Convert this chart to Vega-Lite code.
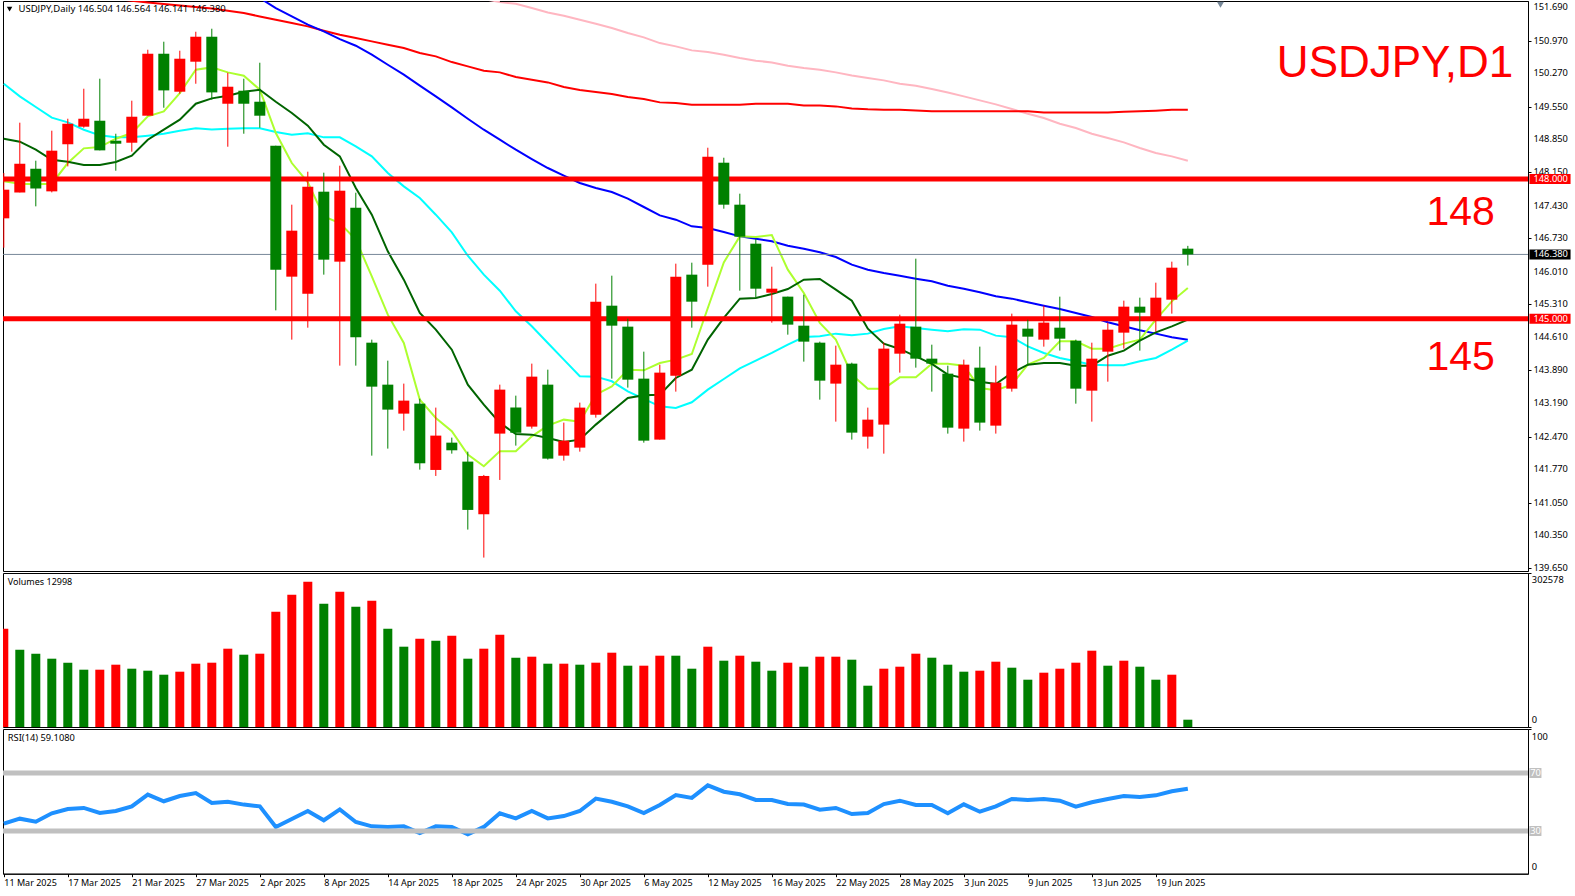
{"$schema":"https://vega.github.io/schema/vega-lite/v6.json","padding":{"left":0,"top":0,"right":0,"bottom":0},"background":"white","spacing":2,"bounds":"flush","config":{"view":{"stroke":"black","strokeWidth":1},"font":"Noto Sans","concat":{"spacing":2},"axis":{"grid":false,"title":null,"domainColor":"black","tickColor":"black","labelColor":"black","labelFont":"Noto Sans","labelFontSize":9,"tickSize":3,"labelPadding":2}},
"datasets":{"bars":[
{"i":0,"date":"2025-03-11","o":147.155,"h":148.127,"l":146.525,"c":147.77,"dir":"up","vol":193160,"vdir":"up","rsi":35.1,"ma1":147.949,"ma2":148.864,"ma3":150.044},
{"i":1,"date":"2025-03-12","o":147.712,"h":149.208,"l":147.712,"c":148.328,"dir":"up","vol":151895,"vdir":"down","rsi":38.5,"ma1":147.898,"ma2":148.8,"ma3":149.773},
{"i":2,"date":"2025-03-13","o":148.22,"h":148.392,"l":147.412,"c":147.798,"dir":"down","vol":144035,"vdir":"down","rsi":36.4,"ma1":147.884,"ma2":148.628,"ma3":149.544},
{"i":3,"date":"2025-03-14","o":147.734,"h":149.036,"l":147.712,"c":148.607,"dir":"up","vol":134210,"vdir":"down","rsi":42.2,"ma1":147.898,"ma2":148.413,"ma3":149.315},
{"i":4,"date":"2025-03-17","o":148.743,"h":149.293,"l":148.27,"c":149.186,"dir":"up","vol":126350,"vdir":"down","rsi":45.2,"ma1":148.342,"ma2":148.371,"ma3":149.215},
{"i":5,"date":"2025-03-18","o":149.122,"h":149.937,"l":149.1,"c":149.293,"dir":"up","vol":112595,"vdir":"down","rsi":45.9,"ma1":148.657,"ma2":148.299,"ma3":149.057},
{"i":6,"date":"2025-03-19","o":149.25,"h":150.152,"l":148.614,"c":148.614,"dir":"down","vol":112595,"vdir":"up","rsi":42.4,"ma1":148.685,"ma2":148.299,"ma3":148.936},
{"i":7,"date":"2025-03-20","o":148.821,"h":148.971,"l":148.177,"c":148.757,"dir":"down","vol":122420,"vdir":"up","rsi":43.8,"ma1":148.864,"ma2":148.363,"ma3":148.893,"ma5":151.868},
{"i":8,"date":"2025-03-21","o":148.778,"h":149.68,"l":148.585,"c":149.336,"dir":"up","vol":114560,"vdir":"down","rsi":47.0,"ma1":148.986,"ma2":148.499,"ma3":148.893,"ma5":151.826},
{"i":9,"date":"2025-03-24","o":149.358,"h":150.774,"l":149.358,"c":150.688,"dir":"up","vol":110630,"vdir":"down","rsi":55.1,"ma1":149.343,"ma2":148.843,"ma3":148.929,"ma5":151.79},
{"i":10,"date":"2025-03-25","o":150.688,"h":150.946,"l":149.529,"c":149.901,"dir":"down","vol":102770,"vdir":"down","rsi":50.5,"ma1":149.451,"ma2":149.057,"ma3":148.971,"ma5":151.754},
{"i":11,"date":"2025-03-26","o":149.873,"h":150.753,"l":149.83,"c":150.581,"dir":"up","vol":108665,"vdir":"up","rsi":54.1,"ma1":149.844,"ma2":149.272,"ma3":149.036,"ma5":151.725},
{"i":12,"date":"2025-03-27","o":150.517,"h":151.16,"l":150.044,"c":151.053,"dir":"up","vol":124385,"vdir":"up","rsi":56.2,"ma1":150.345,"ma2":149.615,"ma3":149.086,"ma5":151.69},
{"i":13,"date":"2025-03-28","o":151.053,"h":151.225,"l":149.701,"c":149.858,"dir":"down","vol":126350,"vdir":"up","rsi":49.3,"ma1":150.395,"ma2":149.73,"ma3":149.064,"ma5":151.661},
{"i":14,"date":"2025-03-31","o":149.615,"h":150.28,"l":148.692,"c":149.98,"dir":"up","vol":153860,"vdir":"up","rsi":50.2,"ma1":150.288,"ma2":149.787,"ma3":149.079,"ma5":151.611},
{"i":15,"date":"2025-04-01","o":149.894,"h":150.152,"l":148.971,"c":149.615,"dir":"down","vol":142070,"vdir":"down","rsi":48.2,"ma1":150.216,"ma2":149.873,"ma3":149.086,"ma4":152.062,"ma5":151.561},
{"i":16,"date":"2025-04-02","o":149.658,"h":150.495,"l":149.1,"c":149.358,"dir":"down","vol":144035,"vdir":"up","rsi":47.0,"ma1":149.916,"ma2":149.916,"ma3":149.086,"ma4":151.883,"ma5":151.489},
{"i":17,"date":"2025-04-03","o":148.714,"h":148.714,"l":145.18,"c":146.053,"dir":"down","vol":226565,"vdir":"up","rsi":32.8,"ma1":148.986,"ma2":149.658,"ma3":149.007,"ma4":151.668,"ma5":151.418},
{"i":18,"date":"2025-04-04","o":145.903,"h":147.448,"l":144.551,"c":146.89,"dir":"up","vol":259970,"vdir":"up","rsi":38.3,"ma1":148.342,"ma2":149.415,"ma3":148.95,"ma4":151.489,"ma5":151.346},
{"i":19,"date":"2025-04-07","o":145.538,"h":148.156,"l":144.808,"c":147.834,"dir":"up","vol":285515,"vdir":"up","rsi":43.8,"ma1":147.927,"ma2":149.143,"ma3":148.979,"ma4":151.311,"ma5":151.275},
{"i":20,"date":"2025-04-08","o":147.727,"h":148.135,"l":145.946,"c":146.268,"dir":"down","vol":242285,"vdir":"down","rsi":37.4,"ma1":147.197,"ma2":148.735,"ma3":148.893,"ma4":151.167,"ma5":151.182},
{"i":21,"date":"2025-04-09","o":146.225,"h":148.285,"l":143.993,"c":147.748,"dir":"up","vol":265865,"vdir":"up","rsi":44.9,"ma1":147.054,"ma2":148.485,"ma3":148.893,"ma4":151.003,"ma5":151.096},
{"i":22,"date":"2025-04-10","o":147.383,"h":147.705,"l":143.993,"c":144.601,"dir":"down","vol":236390,"vdir":"down","rsi":36.2,"ma1":146.697,"ma2":147.806,"ma3":148.7,"ma4":150.86,"ma5":151.024},
{"i":23,"date":"2025-04-11","o":144.486,"h":144.551,"l":142.061,"c":143.542,"dir":"down","vol":248180,"vdir":"up","rsi":33.2,"ma1":145.91,"ma2":147.233,"ma3":148.485,"ma4":150.667,"ma5":150.953},
{"i":24,"date":"2025-04-14","o":143.585,"h":144.1,"l":142.212,"c":143.049,"dir":"down","vol":193160,"vdir":"down","rsi":32.8,"ma1":145.087,"ma2":146.446,"ma3":148.127,"ma4":150.452,"ma5":150.881},
{"i":25,"date":"2025-04-15","o":142.963,"h":143.607,"l":142.598,"c":143.242,"dir":"up","vol":157790,"vdir":"down","rsi":33.2,"ma1":144.479,"ma2":145.838,"ma3":147.841,"ma4":150.238,"ma5":150.81},
{"i":26,"date":"2025-04-16","o":143.177,"h":143.285,"l":141.761,"c":141.897,"dir":"down","vol":173510,"vdir":"up","rsi":28.6,"ma1":143.263,"ma2":145.123,"ma3":147.591,"ma4":150.002,"ma5":150.703},
{"i":27,"date":"2025-04-17","o":141.754,"h":143.092,"l":141.625,"c":142.491,"dir":"up","vol":169580,"vdir":"down","rsi":33.2,"ma1":142.87,"ma2":144.765,"ma3":147.233,"ma4":149.773,"ma5":150.631},
{"i":28,"date":"2025-04-18","o":142.34,"h":142.448,"l":142.104,"c":142.176,"dir":"down","vol":179405,"vdir":"up","rsi":32.8,"ma1":142.584,"ma2":144.336,"ma3":146.854,"ma4":149.537,"ma5":150.509},
{"i":29,"date":"2025-04-21","o":141.933,"h":142.147,"l":140.474,"c":140.896,"dir":"down","vol":134210,"vdir":"down","rsi":27.7,"ma1":142.083,"ma2":143.585,"ma3":146.353,"ma4":149.293,"ma5":150.416},
{"i":30,"date":"2025-04-22","o":140.803,"h":141.647,"l":139.873,"c":141.625,"dir":"up","vol":153860,"vdir":"up","rsi":32.8,"ma1":141.833,"ma2":143.156,"ma3":145.946,"ma4":149.057,"ma5":150.323,"ma6":151.861},
{"i":31,"date":"2025-04-23","o":142.534,"h":143.585,"l":141.539,"c":143.478,"dir":"up","vol":181370,"vdir":"up","rsi":42.2,"ma1":142.154,"ma2":142.763,"ma3":145.602,"ma4":148.843,"ma5":150.288,"ma6":151.797},
{"i":32,"date":"2025-04-24","o":143.092,"h":143.349,"l":142.276,"c":142.555,"dir":"down","vol":136175,"vdir":"down","rsi":38.7,"ma1":142.154,"ma2":142.526,"ma3":145.159,"ma4":148.628,"ma5":150.187,"ma6":151.761},
{"i":33,"date":"2025-04-25","o":142.684,"h":144.036,"l":142.641,"c":143.757,"dir":"up","vol":138140,"vdir":"up","rsi":43.8,"ma1":142.476,"ma2":142.512,"ma3":144.837,"ma4":148.428,"ma5":150.13,"ma6":151.668},
{"i":34,"date":"2025-04-28","o":143.585,"h":143.907,"l":141.976,"c":141.997,"dir":"down","vol":124385,"vdir":"down","rsi":38.7,"ma1":142.705,"ma2":142.441,"ma3":144.479,"ma4":148.235,"ma5":150.073,"ma6":151.575},
{"i":35,"date":"2025-04-29","o":142.061,"h":142.77,"l":141.954,"c":142.383,"dir":"up","vol":124385,"vdir":"up","rsi":40.3,"ma1":142.834,"ma2":142.355,"ma3":144.122,"ma4":148.07,"ma5":149.973,"ma6":151.504},
{"i":36,"date":"2025-04-30","o":142.233,"h":143.199,"l":142.147,"c":143.092,"dir":"up","vol":122420,"vdir":"down","rsi":43.8,"ma1":142.791,"ma2":142.405,"ma3":143.764,"ma4":147.913,"ma5":149.908,"ma6":151.418},
{"i":37,"date":"2025-05-01","o":142.941,"h":145.753,"l":142.877,"c":145.366,"dir":"up","vol":126350,"vdir":"up","rsi":52.3,"ma1":143.37,"ma2":142.727,"ma3":143.757,"ma4":147.806,"ma5":149.866,"ma6":151.332},
{"i":38,"date":"2025-05-02","o":145.28,"h":145.924,"l":143.714,"c":144.851,"dir":"down","vol":146000,"vdir":"up","rsi":50.2,"ma1":143.549,"ma2":143.013,"ma3":143.657,"ma4":147.72,"ma5":149.823,"ma6":151.239},
{"i":39,"date":"2025-05-05","o":144.83,"h":145.001,"l":143.521,"c":143.692,"dir":"down","vol":120455,"vdir":"down","rsi":47.0,"ma1":143.907,"ma2":143.299,"ma3":143.442,"ma4":147.577,"ma5":149.758,"ma6":151.132},
{"i":40,"date":"2025-05-06","o":143.714,"h":144.293,"l":142.34,"c":142.383,"dir":"down","vol":120455,"vdir":"up","rsi":42.4,"ma1":143.893,"ma2":143.356,"ma3":143.278,"ma4":147.398,"ma5":149.715,"ma6":151.039},
{"i":41,"date":"2025-05-07","o":142.405,"h":144.014,"l":142.405,"c":143.843,"dir":"up","vol":140105,"vdir":"up","rsi":47.9,"ma1":144.05,"ma2":143.37,"ma3":143.12,"ma4":147.219,"ma5":149.644,"ma6":150.917},
{"i":42,"date":"2025-05-08","o":143.778,"h":146.182,"l":143.435,"c":145.903,"dir":"up","vol":140105,"vdir":"down","rsi":54.8,"ma1":144.122,"ma2":143.728,"ma3":143.084,"ma4":147.126,"ma5":149.63,"ma6":150.846},
{"i":43,"date":"2025-05-09","o":145.946,"h":146.203,"l":144.808,"c":145.366,"dir":"down","vol":114560,"vdir":"down","rsi":52.8,"ma1":144.243,"ma2":143.907,"ma3":143.206,"ma4":146.983,"ma5":149.594,"ma6":150.76},
{"i":44,"date":"2025-05-12","o":146.16,"h":148.671,"l":145.688,"c":148.478,"dir":"up","vol":157790,"vdir":"up","rsi":61.5,"ma1":145.23,"ma2":144.551,"ma3":143.478,"ma4":146.947,"ma5":149.594,"ma6":150.724},
{"i":45,"date":"2025-05-13","o":148.349,"h":148.456,"l":147.362,"c":147.448,"dir":"down","vol":130280,"vdir":"down","rsi":57.1,"ma1":146.21,"ma2":145.016,"ma3":143.707,"ma4":146.861,"ma5":149.594,"ma6":150.667},
{"i":46,"date":"2025-05-14","o":147.448,"h":147.684,"l":145.602,"c":146.761,"dir":"down","vol":140105,"vdir":"up","rsi":55.3,"ma1":146.768,"ma2":145.431,"ma3":143.936,"ma4":146.768,"ma5":149.594,"ma6":150.595},
{"i":47,"date":"2025-05-15","o":146.611,"h":146.718,"l":145.452,"c":145.645,"dir":"down","vol":128315,"vdir":"down","rsi":51.4,"ma1":146.754,"ma2":145.445,"ma3":144.1,"ma4":146.718,"ma5":149.615,"ma6":150.538},
{"i":48,"date":"2025-05-16","o":145.559,"h":146.117,"l":144.916,"c":145.645,"dir":"up","vol":110630,"vdir":"down","rsi":51.4,"ma1":146.797,"ma2":145.531,"ma3":144.265,"ma4":146.661,"ma5":149.615,"ma6":150.502},
{"i":49,"date":"2025-05-19","o":145.474,"h":145.474,"l":144.658,"c":144.873,"dir":"down","vol":126350,"vdir":"up","rsi":48.6,"ma1":146.053,"ma2":145.638,"ma3":144.444,"ma4":146.568,"ma5":149.615,"ma6":150.431},
{"i":50,"date":"2025-05-20","o":144.851,"h":145.516,"l":144.079,"c":144.508,"dir":"down","vol":118490,"vdir":"down","rsi":48.2,"ma1":145.552,"ma2":145.838,"ma3":144.608,"ma4":146.504,"ma5":149.579,"ma6":150.381},
{"i":51,"date":"2025-05-21","o":144.486,"h":144.508,"l":143.263,"c":143.671,"dir":"down","vol":138140,"vdir":"up","rsi":44.7,"ma1":144.909,"ma2":145.853,"ma3":144.622,"ma4":146.425,"ma5":149.579,"ma6":150.345},
{"i":52,"date":"2025-05-22","o":143.607,"h":144.422,"l":142.791,"c":144.014,"dir":"up","vol":138140,"vdir":"up","rsi":45.9,"ma1":144.551,"ma2":145.624,"ma3":144.68,"ma4":146.325,"ma5":149.558,"ma6":150.288},
{"i":53,"date":"2025-05-23","o":144.036,"h":144.057,"l":142.405,"c":142.555,"dir":"down","vol":132245,"vdir":"down","rsi":41.7,"ma1":143.8,"ma2":145.388,"ma3":144.644,"ma4":146.16,"ma5":149.515,"ma6":150.223},
{"i":54,"date":"2025-05-26","o":142.469,"h":143.092,"l":142.212,"c":142.834,"dir":"up","vol":81155,"vdir":"down","rsi":42.4,"ma1":143.499,"ma2":144.787,"ma3":144.68,"ma4":146.053,"ma5":149.494,"ma6":150.166},
{"i":55,"date":"2025-05-27","o":142.727,"h":144.486,"l":142.104,"c":144.358,"dir":"up","vol":114560,"vdir":"up","rsi":48.6,"ma1":143.499,"ma2":144.465,"ma3":144.78,"ma4":145.981,"ma5":149.486,"ma6":150.116},
{"i":56,"date":"2025-05-28","o":144.25,"h":145.087,"l":143.843,"c":144.894,"dir":"up","vol":118490,"vdir":"up","rsi":50.9,"ma1":143.742,"ma2":144.351,"ma3":144.837,"ma4":145.924,"ma5":149.486,"ma6":150.044},
{"i":57,"date":"2025-05-29","o":144.83,"h":146.289,"l":143.95,"c":144.143,"dir":"down","vol":144035,"vdir":"up","rsi":47.9,"ma1":143.742,"ma2":144.193,"ma3":144.801,"ma4":145.86,"ma5":149.472,"ma6":150.002},
{"i":58,"date":"2025-05-30","o":144.143,"h":144.443,"l":143.435,"c":144.036,"dir":"down","vol":136175,"vdir":"down","rsi":47.9,"ma1":144.036,"ma2":144.029,"ma3":144.765,"ma4":145.803,"ma5":149.451,"ma6":149.93},
{"i":59,"date":"2025-06-02","o":143.821,"h":143.993,"l":142.534,"c":142.662,"dir":"down","vol":122420,"vdir":"down","rsi":42.2,"ma1":144.036,"ma2":143.8,"ma3":144.73,"ma4":145.71,"ma5":149.451,"ma6":149.858},
{"i":60,"date":"2025-06-03","o":142.641,"h":144.122,"l":142.362,"c":144.014,"dir":"up","vol":108665,"vdir":"down","rsi":48.4,"ma1":143.993,"ma2":143.728,"ma3":144.773,"ma4":145.645,"ma5":149.451,"ma6":149.773},
{"i":61,"date":"2025-06-04","o":143.95,"h":144.401,"l":142.598,"c":142.77,"dir":"down","vol":110630,"vdir":"up","rsi":43.3,"ma1":143.514,"ma2":143.649,"ma3":144.765,"ma4":145.567,"ma5":149.451,"ma6":149.687},
{"i":62,"date":"2025-06-05","o":142.705,"h":143.993,"l":142.534,"c":143.628,"dir":"up","vol":128315,"vdir":"up","rsi":47.0,"ma1":143.464,"ma2":143.599,"ma3":144.637,"ma4":145.481,"ma5":149.451,"ma6":149.601},
{"i":63,"date":"2025-06-06","o":143.499,"h":145.109,"l":143.435,"c":144.873,"dir":"up","vol":116525,"vdir":"down","rsi":52.1,"ma1":143.585,"ma2":143.836,"ma3":144.601,"ma4":145.431,"ma5":149.451,"ma6":149.501},
{"i":64,"date":"2025-06-09","o":144.787,"h":144.98,"l":143.993,"c":144.615,"dir":"down","vol":92945,"vdir":"down","rsi":51.4,"ma1":144.014,"ma2":144.014,"ma3":144.408,"ma4":145.352,"ma5":149.451,"ma6":149.401},
{"i":65,"date":"2025-06-10","o":144.551,"h":145.28,"l":144.401,"c":144.916,"dir":"up","vol":106700,"vdir":"up","rsi":52.1,"ma1":144.157,"ma2":144.05,"ma3":144.265,"ma4":145.28,"ma5":149.429,"ma6":149.308},
{"i":66,"date":"2025-06-11","o":144.808,"h":145.474,"l":144.315,"c":144.572,"dir":"down","vol":114560,"vdir":"up","rsi":50.9,"ma1":144.515,"ma2":144.05,"ma3":144.157,"ma4":145.209,"ma5":149.429,"ma6":149.186},
{"i":67,"date":"2025-06-12","o":144.529,"h":144.551,"l":143.177,"c":143.499,"dir":"down","vol":126350,"vdir":"up","rsi":46.8,"ma1":144.515,"ma2":143.993,"ma3":144.086,"ma4":145.123,"ma5":149.429,"ma6":149.093},
{"i":68,"date":"2025-06-13","o":143.456,"h":144.486,"l":142.791,"c":144.143,"dir":"up","vol":149930,"vdir":"up","rsi":49.8,"ma1":144.358,"ma2":143.993,"ma3":144.014,"ma4":145.037,"ma5":149.429,"ma6":148.971},
{"i":69,"date":"2025-06-16","o":144.293,"h":144.916,"l":143.649,"c":144.765,"dir":"up","vol":120455,"vdir":"down","rsi":52.1,"ma1":144.358,"ma2":144.207,"ma3":144.0,"ma4":144.923,"ma5":149.429,"ma6":148.878},
{"i":70,"date":"2025-06-17","o":144.701,"h":145.388,"l":144.358,"c":145.259,"dir":"up","vol":130280,"vdir":"up","rsi":54.1,"ma1":144.465,"ma2":144.315,"ma3":144.0,"ma4":144.837,"ma5":149.444,"ma6":148.785},
{"i":71,"date":"2025-06-18","o":145.259,"h":145.452,"l":144.315,"c":145.13,"dir":"down","vol":118490,"vdir":"down","rsi":53.4,"ma1":144.551,"ma2":144.529,"ma3":144.086,"ma4":144.751,"ma5":149.451,"ma6":148.664},
{"i":72,"date":"2025-06-19","o":144.98,"h":145.774,"l":144.722,"c":145.452,"dir":"up","vol":92945,"vdir":"down","rsi":54.6,"ma1":144.98,"ma2":144.708,"ma3":144.157,"ma4":144.68,"ma5":149.465,"ma6":148.557},
{"i":73,"date":"2025-06-20","o":145.409,"h":146.225,"l":145.109,"c":146.096,"dir":"up","vol":102770,"vdir":"up","rsi":57.4,"ma1":145.373,"ma2":144.837,"ma3":144.336,"ma4":144.601,"ma5":149.486,"ma6":148.485},
{"i":74,"date":"2025-06-23","o":146.504,"h":146.564,"l":146.141,"c":146.38,"dir":"down","vol":14345,"vdir":"down","rsi":59.108,"ma1":145.66,"ma2":144.98,"ma3":144.529,"ma4":144.551,"ma5":149.486,"ma6":148.392}
]},
"vconcat":[
{"width":1525,"height":570,
"encoding":{"x":{"field":"i","type":"quantitative","scale":{"domain":[-0.05,95.26],"nice":false,"zero":false,"padding":0},"axis":null}},
"layer":[
{"data":{"name":"bars"},"mark":{"type":"line","color":"#FFB6C1","strokeWidth":2,"clip":true,"interpolate":"linear"},"encoding":{"y":{"field":"ma6","type":"quantitative","scale":{"domain":[139.585,151.82],"nice":false,"zero":false,"padding":0},"axis":{"orient":"right","values":[151.69,150.97,150.27,149.55,148.85,148.15,147.43,146.73,146.01,145.31,144.61,143.89,143.19,142.47,141.77,141.05,140.35,139.65],"title":null,"labels":false}}}},
{"data":{"name":"bars"},"mark":{"type":"line","color":"#FF0000","strokeWidth":2,"clip":true},"encoding":{"y":{"field":"ma5","type":"quantitative"}}},
{"data":{"name":"bars"},"mark":{"type":"line","color":"#0000FF","strokeWidth":2,"clip":true},"encoding":{"y":{"field":"ma4","type":"quantitative"}}},
{"data":{"name":"bars"},"mark":{"type":"line","color":"#00FFFF","strokeWidth":2,"clip":true},"encoding":{"y":{"field":"ma3","type":"quantitative"}}},
{"data":{"name":"bars"},"mark":{"type":"line","color":"#ADFF2F","strokeWidth":2,"clip":true},"encoding":{"y":{"field":"ma1","type":"quantitative"}}},
{"data":{"name":"bars"},"mark":{"type":"line","color":"#006400","strokeWidth":2,"clip":true},"encoding":{"y":{"field":"ma2","type":"quantitative"}}},
{"data":{"values":[{"level":146.38}]},"mark":{"type":"rule","color":"#778899","strokeWidth":1},"encoding":{"x":{},"y":{"field":"level","type":"quantitative"}}},
{"data":{"values":[{"level":148},{"level":145}]},"mark":{"type":"rule","color":"#FF0000","strokeWidth":5},"encoding":{"x":{},"y":{"field":"level","type":"quantitative"}}},
{"data":{"name":"bars"},"mark":{"type":"rule","strokeWidth":1,"clip":true},"encoding":{"y":{"field":"l","type":"quantitative"},"y2":{"field":"h"},"color":{"field":"dir","type":"nominal","scale":{"domain":["up","down"],"range":["#FF0000","#008000"]},"legend":null}}},
{"data":{"name":"bars"},"mark":{"type":"bar","size":11,"clip":true,"orient":"vertical"},"encoding":{"y":{"field":"o","type":"quantitative"},"y2":{"field":"c"},"color":{"field":"dir","type":"nominal","legend":null}}},
{"data":{"values":[{"t":"151.690","price":151.69,"xp":95.6},{"t":"150.970","price":150.97,"xp":95.6},{"t":"150.270","price":150.27,"xp":95.6},{"t":"149.550","price":149.55,"xp":95.6},{"t":"148.850","price":148.85,"xp":95.6},{"t":"148.150","price":148.15,"xp":95.6},{"t":"147.430","price":147.43,"xp":95.6},{"t":"146.730","price":146.73,"xp":95.6},{"t":"146.010","price":146.01,"xp":95.6},{"t":"145.310","price":145.31,"xp":95.6},{"t":"144.610","price":144.61,"xp":95.6},{"t":"143.890","price":143.89,"xp":95.6},{"t":"143.190","price":143.19,"xp":95.6},{"t":"142.470","price":142.47,"xp":95.6},{"t":"141.770","price":141.77,"xp":95.6},{"t":"141.050","price":141.05,"xp":95.6},{"t":"140.350","price":140.35,"xp":95.6},{"t":"139.650","price":139.65,"xp":95.6}]},"mark":{"type":"text","align":"left","baseline":"middle","color":"black","fontSize":9.3},"encoding":{"x":{"field":"xp","type":"quantitative"},"y":{"field":"price","type":"quantitative"},"text":{"field":"t"}}},
{"data":{"values":[{"level":148,"xp":95.35,"xp2":97.92},{"level":145,"xp":95.35,"xp2":97.92}]},"mark":{"type":"rule","strokeWidth":10,"color":"#FF0000"},"encoding":{"x":{"field":"xp","type":"quantitative"},"x2":{"field":"xp2"},"y":{"field":"level","type":"quantitative"}}},
{"data":{"values":[{"level":146.38,"xp":95.35,"xp2":97.92}]},"mark":{"type":"rule","strokeWidth":10,"color":"#000000"},"encoding":{"x":{"field":"xp","type":"quantitative"},"x2":{"field":"xp2"},"y":{"field":"level","type":"quantitative"}}},
{"data":{"values":[{"level":148,"tag":"148.000","xp":95.6},{"level":145,"tag":"145.000","xp":95.6},{"level":146.38,"tag":"146.380","xp":95.6}]},"mark":{"type":"text","align":"left","baseline":"middle","color":"white","fontSize":9.3},"encoding":{"x":{"field":"xp","type":"quantitative"},"y":{"field":"level","type":"quantitative"},"text":{"field":"tag"}}},
{"data":{"values":[{"t":"USDJPY,D1","xp":94.34,"price":150.18}]},"mark":{"type":"text","align":"right","baseline":"alphabetic","color":"#FF0000","font":"Liberation Sans","fontSize":44},"encoding":{"x":{"field":"xp","type":"quantitative"},"y":{"field":"price","type":"quantitative"},"text":{"field":"t"}}},
{"data":{"values":[{"t":"148","xp":93.19,"price":147.01},{"t":"145","xp":93.19,"price":143.91}]},"mark":{"type":"text","align":"right","baseline":"alphabetic","color":"#FF0000","font":"Liberation Sans","fontSize":41},"encoding":{"x":{"field":"xp","type":"quantitative"},"y":{"field":"price","type":"quantitative"},"text":{"field":"t"}}},
{"data":{"values":[{"t":"USDJPY,Daily  146.504 146.564 146.141 146.380","xp":0.92,"price":151.643}]},"mark":{"type":"text","align":"left","baseline":"middle","color":"black","fontSize":9.5},"encoding":{"x":{"field":"xp","type":"quantitative"},"y":{"field":"price","type":"quantitative"},"text":{"field":"t"}}},
{"data":{"values":[{"xp":0.36,"price":151.643}]},"mark":{"type":"point","shape":"triangle-down","filled":true,"size":30,"opacity":1,"color":"#000000"},"encoding":{"x":{"field":"xp","type":"quantitative"},"y":{"field":"price","type":"quantitative"}}},
{"data":{"values":[{"xp":76.04,"price":151.74}]},"mark":{"type":"point","shape":"triangle-down","filled":true,"size":50,"opacity":1,"color":"#778899"},"encoding":{"x":{"field":"xp","type":"quantitative"},"y":{"field":"price","type":"quantitative"}}}
]},
{"width":1525,"height":154,
"encoding":{"x":{"field":"i","type":"quantitative","scale":{"domain":[-0.05,95.26],"nice":false,"zero":false,"padding":0},"axis":null}},
"layer":[
{"data":{"name":"bars"},"mark":{"type":"bar","size":9,"clip":true,"orient":"vertical"},"encoding":{"y":{"field":"vol","type":"quantitative","scale":{"domain":[0,302578],"nice":false,"padding":0},"axis":{"orient":"right","values":[0,302578],"title":null,"labels":false}},"color":{"field":"vdir","type":"nominal","scale":{"domain":["up","down"],"range":["#FF0000","#008000"]},"legend":null}}},
{"data":{"values":[{"t":"Volumes 12998","xp":0.25,"v":285500}]},"mark":{"type":"text","align":"left","baseline":"middle","color":"black","fontSize":9},"encoding":{"x":{"field":"xp","type":"quantitative"},"y":{"field":"v","type":"quantitative"},"text":{"field":"t"}}},
{"data":{"values":[{"t":"302578","xp":95.5,"v":288070},{"t":"0","xp":95.5,"v":12970}]},"mark":{"type":"text","align":"left","baseline":"middle","color":"black","fontSize":9.3},"encoding":{"x":{"field":"xp","type":"quantitative"},"y":{"field":"v","type":"quantitative"},"text":{"field":"t"}}}
]},
{"width":1525,"height":144.7,
"encoding":{"x":{"field":"i","type":"quantitative","scale":{"domain":[-0.05,95.26],"nice":false,"zero":false,"padding":0},"axis":{"orient":"bottom","values":[0,4,8,12,16,20,24,28,32,36,40,44,48,52,56,60,64,68,72],"title":null,"labelAlign":"left","labelPadding":2,"labelOverlap":false,"labelFontSize":9,"labelExpr":"['11 Mar 2025','17 Mar 2025','21 Mar 2025','27 Mar 2025','2 Apr 2025','8 Apr 2025','14 Apr 2025','18 Apr 2025','24 Apr 2025','30 Apr 2025','6 May 2025','12 May 2025','16 May 2025','22 May 2025','28 May 2025','3 Jun 2025','9 Jun 2025','13 Jun 2025','19 Jun 2025'][datum.value/4]"}}},
"layer":[
{"data":{"name":"bars"},"mark":{"type":"line","color":"#1E90FF","strokeWidth":4,"clip":true},"encoding":{"y":{"field":"rsi","type":"quantitative","scale":{"domain":[0.55,100.34],"nice":false,"zero":false,"padding":0},"axis":{"orient":"right","values":[0,100],"title":null,"labels":false}}}},
{"data":{"values":[{"level":70},{"level":30}]},"mark":{"type":"rule","color":"#C0C0C0","strokeWidth":5},"encoding":{"x":{},"y":{"field":"level","type":"quantitative"}}},
{"data":{"values":[{"level":70,"xp":95.35,"xp2":96.1},{"level":30,"xp":95.35,"xp2":96.1}]},"mark":{"type":"rule","strokeWidth":10,"color":"#C0C0C0"},"encoding":{"x":{"field":"xp","type":"quantitative"},"x2":{"field":"xp2"},"y":{"field":"level","type":"quantitative"}}},
{"data":{"values":[{"level":70,"tag":"70","xp":95.4},{"level":30,"tag":"30","xp":95.4}]},"mark":{"type":"text","align":"left","baseline":"middle","color":"white","fontSize":9.3},"encoding":{"x":{"field":"xp","type":"quantitative"},"y":{"field":"level","type":"quantitative"},"text":{"field":"tag"}}},
{"data":{"values":[{"t":"100","xp":95.5,"r":95.1},{"t":"0","xp":95.5,"r":5.2}]},"mark":{"type":"text","align":"left","baseline":"middle","color":"black","fontSize":9.3},"encoding":{"x":{"field":"xp","type":"quantitative"},"y":{"field":"r","type":"quantitative"},"text":{"field":"t"}}},
{"data":{"values":[{"t":"RSI(14) 59.1080","xp":0.25,"r":94.3}]},"mark":{"type":"text","align":"left","baseline":"middle","color":"black","fontSize":9.3},"encoding":{"x":{"field":"xp","type":"quantitative"},"y":{"field":"r","type":"quantitative"},"text":{"field":"t"}}}
]}
]}
